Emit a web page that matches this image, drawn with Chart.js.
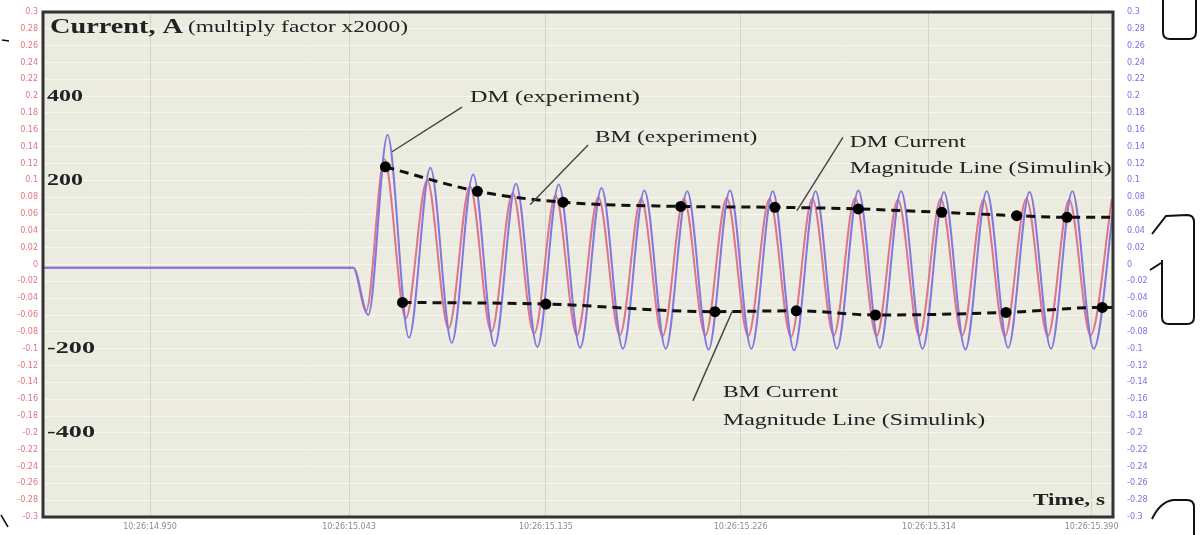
<!DOCTYPE html>
<html>
<head>
<meta charset="utf-8">
<script src="https://cdn.jsdelivr.net/npm/chart.js@4.4.1/dist/chart.umd.min.js"></script>
<style>
  html, body { margin: 0; padding: 0; background: #ffffff; }
  #wrap { width: 1203px; height: 535px; position: relative; }
</style>
</head>
<body>
<div id="wrap"><canvas id="currentChart"></canvas></div>
<script>
// time in ms from the start of the record, current in scope units (x2000 = A)
const tickTimes = [50, 143, 235, 326, 414, 490];
const tickLabels = ['10:26:14.950', '10:26:15.043', '10:26:15.135', '10:26:15.226', '10:26:15.314', '10:26:15.390'];

const currentLabels = [400, 200, -200, -400];
const multiplyFactor = 2000;

// DM (experiment) - blue trace, one point per peak / trough
const dmTime = [0, 145, 152, 161, 171, 181, 191, 201, 211, 221, 231, 241, 251, 261, 271, 281, 291, 301, 311,
  321, 331, 341, 351, 361, 371, 381, 391, 401, 411, 421, 431, 441, 451, 461, 471, 481, 491, 501];
const dmCurrent = [-0.004, -0.004, -0.060, 0.154, -0.087, 0.115, -0.093, 0.107, -0.097, 0.096, -0.098, 0.095,
  -0.099, 0.091, -0.100, 0.088, -0.100, 0.087, -0.101, 0.088, -0.100, 0.087, -0.102, 0.087, -0.100, 0.088,
  -0.099, 0.087, -0.100, 0.086, -0.101, 0.087, -0.099, 0.086, -0.100, 0.087, -0.100, 0.086];

// BM (experiment) - red trace
const bmTime = [0, 145, 151, 159.5, 169.5, 179.5, 189.5, 199.5, 209.5, 219.5, 229.5, 239.5, 249.5, 259.5, 269.5,
  279.5, 289.5, 299.5, 309.5, 319.5, 329.5, 339.5, 349.5, 359.5, 369.5, 379.5, 389.5, 399.5, 409.5, 419.5,
  429.5, 439.5, 449.5, 459.5, 469.5, 479.5, 489.5, 499.5];
const bmCurrent = [-0.004, -0.004, -0.055, 0.125, -0.064, 0.100, -0.076, 0.093, -0.080, 0.085, -0.082, 0.082,
  -0.084, 0.080, -0.084, 0.078, -0.085, 0.078, -0.084, 0.079, -0.085, 0.078, -0.086, 0.078, -0.084, 0.079,
  -0.085, 0.077, -0.085, 0.078, -0.084, 0.077, -0.085, 0.078, -0.085, 0.077, -0.084, 0.078];

// Simulink magnitude lines
const dmEnvTime = [160, 203, 243, 298, 342, 381, 420, 455, 478.5, 500];
const dmEnvValue = [0.116, 0.087, 0.074, 0.069, 0.068, 0.066, 0.062, 0.058, 0.056, 0.056];
const bmEnvTime = [168, 235, 314, 352, 389, 450, 495, 500];
const bmEnvValue = [-0.045, -0.047, -0.056, -0.055, -0.060, -0.057, -0.051, -0.051];

const toPoints = (xs, ys) => xs.map((x, i) => ({ x: x, y: ys[i] }));
const dots = (xs) => xs.map((x, i) => (i === xs.length - 1 ? 0 : 5.5));

const serif = '"Liberation Serif", "DejaVu Serif", serif';

// text squeezed/stretched to the width it has in the scan
function fitText(ctx, str, x, y, width, font) {
  ctx.font = font;
  const w = ctx.measureText(str).width;
  ctx.save();
  ctx.translate(x, y);
  ctx.scale(width / w, 1);
  ctx.fillText(str, 0, 0);
  ctx.restore();
}

const paperPlugin = {
  id: 'paper',
  beforeDraw(chart) {
    const { ctx, chartArea: a } = chart;
    ctx.save();
    ctx.fillStyle = '#ecebdf';
    ctx.fillRect(a.left, a.top, a.right - a.left, a.bottom - a.top);
    ctx.restore();
  },
  afterDraw(chart) {
    const { ctx, chartArea: a } = chart;
    const xs = chart.scales.x, ys = chart.scales.y;
    const X = (t) => xs.getPixelForValue(t);
    const Y = (v) => ys.getPixelForValue(v);

    ctx.save();
    // leader lines
    ctx.strokeStyle = '#444';
    ctx.lineWidth = 1.4;
    const leaders = [
      [195.8, 0.187, 163.1, 0.134],
      [254.7, 0.142, 227.6, 0.071],
      [373.8, 0.151, 352.3, 0.064],
      [322.0, -0.056, 303.7, -0.162]
    ];
    leaders.forEach(l => {
      ctx.beginPath();
      ctx.moveTo(X(l[0]), Y(l[1]));
      ctx.lineTo(X(l[2]), Y(l[3]));
      ctx.stroke();
    });

    ctx.beginPath();
    ctx.rect(a.left, a.top, a.right - a.left, a.bottom - a.top);
    ctx.clip();

    ctx.fillStyle = '#222';
    ctx.textBaseline = 'middle';
    ctx.textAlign = 'left';
    fitText(ctx, 'Current, A', a.left + 7, a.top + 15, 133, 'bold 22px ' + serif);
    fitText(ctx, '(multiply factor x2000)', a.left + 145, a.top + 16, 220, '17px ' + serif);

    currentLabels.forEach(c => {
      const s = String(c);
      fitText(ctx, s, a.left + 4, Y(c / multiplyFactor), s.length * 12, 'bold 17px ' + serif);
    });

    fitText(ctx, 'DM (experiment)', X(199.5), Y(0.198), 170, '17px ' + serif);
    fitText(ctx, 'BM (experiment)', X(258), Y(0.151), 162, '17px ' + serif);
    fitText(ctx, 'DM Current', X(377), Y(0.145), 116, '17px ' + serif);
    fitText(ctx, 'Magnitude Line (Simulink)', X(377), Y(0.114), 262, '17px ' + serif);
    fitText(ctx, 'BM Current', X(317.8), Y(-0.152), 115, '17px ' + serif);
    fitText(ctx, 'Magnitude Line (Simulink)', X(317.8), Y(-0.185), 262, '17px ' + serif);
    fitText(ctx, 'Time, s', X(462.6), Y(-0.281), 72, 'bold 17px ' + serif);
    ctx.restore();

    // plot frame
    ctx.save();
    ctx.strokeStyle = '#333';
    ctx.lineWidth = 3;
    ctx.strokeRect(a.left, a.top, a.right - a.left, a.bottom - a.top);
    ctx.restore();

    // bits of the neighbouring figure cut off by the crop
    ctx.save();
    ctx.strokeStyle = '#111';
    ctx.lineWidth = 2;
    ctx.beginPath();
    ctx.moveTo(1163, 0); ctx.lineTo(1163, 32);
    ctx.quadraticCurveTo(1163, 39, 1170, 39); ctx.lineTo(1189, 39);
    ctx.quadraticCurveTo(1196, 39, 1196, 32); ctx.lineTo(1196, 0);
    ctx.stroke();
    ctx.beginPath();
    ctx.moveTo(1152, 234); ctx.lineTo(1166, 216); ctx.lineTo(1187, 215);
    ctx.quadraticCurveTo(1194, 215, 1194, 222); ctx.lineTo(1194, 317);
    ctx.quadraticCurveTo(1194, 324, 1187, 324); ctx.lineTo(1169, 324);
    ctx.quadraticCurveTo(1162, 324, 1162, 317); ctx.lineTo(1162, 260);
    ctx.stroke();
    ctx.beginPath();
    ctx.moveTo(1150, 270); ctx.lineTo(1161, 263);
    ctx.stroke();
    ctx.beginPath();
    ctx.moveTo(1152, 519); ctx.quadraticCurveTo(1160, 502, 1173, 500); ctx.lineTo(1187, 500);
    ctx.quadraticCurveTo(1194, 500, 1194, 507); ctx.lineTo(1194, 535);
    ctx.stroke();
    ctx.lineWidth = 1.5;
    ctx.beginPath();
    ctx.moveTo(2, 40); ctx.lineTo(9, 41);
    ctx.moveTo(1, 515); ctx.lineTo(8, 527);
    ctx.stroke();
    ctx.restore();
  }
};

const yTickFormat = (v) => String(Number(v.toFixed(2)));

new Chart(document.getElementById('currentChart'), {
  type: 'line',
  data: {
    datasets: [
      {
        label: 'DM Current Magnitude Line (Simulink)',
        data: toPoints(dmEnvTime, dmEnvValue),
        borderColor: '#111',
        borderWidth: 3,
        borderDash: [9, 6],
        pointRadius: dots(dmEnvTime),
        pointBackgroundColor: '#000',
        pointBorderWidth: 0,
        cubicInterpolationMode: 'monotone',
        order: 0
      },
      {
        label: 'BM Current Magnitude Line (Simulink)',
        data: toPoints(bmEnvTime, bmEnvValue),
        borderColor: '#111',
        borderWidth: 3,
        borderDash: [9, 6],
        pointRadius: dots(bmEnvTime),
        pointBackgroundColor: '#000',
        pointBorderWidth: 0,
        cubicInterpolationMode: 'monotone',
        order: 0
      },
      {
        label: 'DM (experiment)',
        data: toPoints(dmTime, dmCurrent),
        borderColor: '#8078e0',
        borderWidth: 2,
        pointRadius: 0,
        cubicInterpolationMode: 'monotone',
        order: 1
      },
      {
        label: 'BM (experiment)',
        data: toPoints(bmTime, bmCurrent),
        borderColor: '#e07488',
        borderWidth: 2,
        pointRadius: 0,
        cubicInterpolationMode: 'monotone',
        order: 2
      }
    ]
  },
  options: {
    responsive: true,
    maintainAspectRatio: false,
    animation: false,
    layout: { padding: { top: 12, right: 50, bottom: 0, left: 0 } },
    plugins: {
      legend: { display: false },
      tooltip: { enabled: false }
    },
    scales: {
      x: {
        type: 'linear',
        min: 0,
        max: 500,
        afterBuildTicks: (axis) => { axis.ticks = tickTimes.map(v => ({ value: v })); },
        afterFit: (axis) => { axis.height = 18; },
        grid: { color: 'rgba(150,150,140,0.3)', drawTicks: false },
        border: { display: false },
        ticks: {
          padding: 5,
          maxRotation: 0,
          color: '#8c8c8c',
          font: { family: 'DejaVu Sans', size: 8 },
          callback: (v, i) => tickLabels[i]
        }
      },
      y: {
        position: 'left',
        min: -0.3,
        max: 0.3,
        afterFit: (axis) => { axis.width = 43; },
        grid: { color: 'rgba(255,255,255,0.6)', lineWidth: 1, drawTicks: false },
        border: { display: false },
        ticks: {
          stepSize: 0.02,
          padding: 5,
          color: '#e8707e',
          font: { family: 'DejaVu Sans', size: 8 },
          callback: yTickFormat
        }
      },
      y2: {
        position: 'right',
        min: -0.3,
        max: 0.3,
        afterFit: (axis) => { axis.width = 40; },
        grid: { display: false },
        border: { display: false },
        ticks: {
          stepSize: 0.02,
          padding: 6,
          color: '#7474e4',
          font: { family: 'DejaVu Sans', size: 8 },
          callback: yTickFormat
        }
      }
    }
  },
  plugins: [paperPlugin]
});
</script>
</body>
</html>
